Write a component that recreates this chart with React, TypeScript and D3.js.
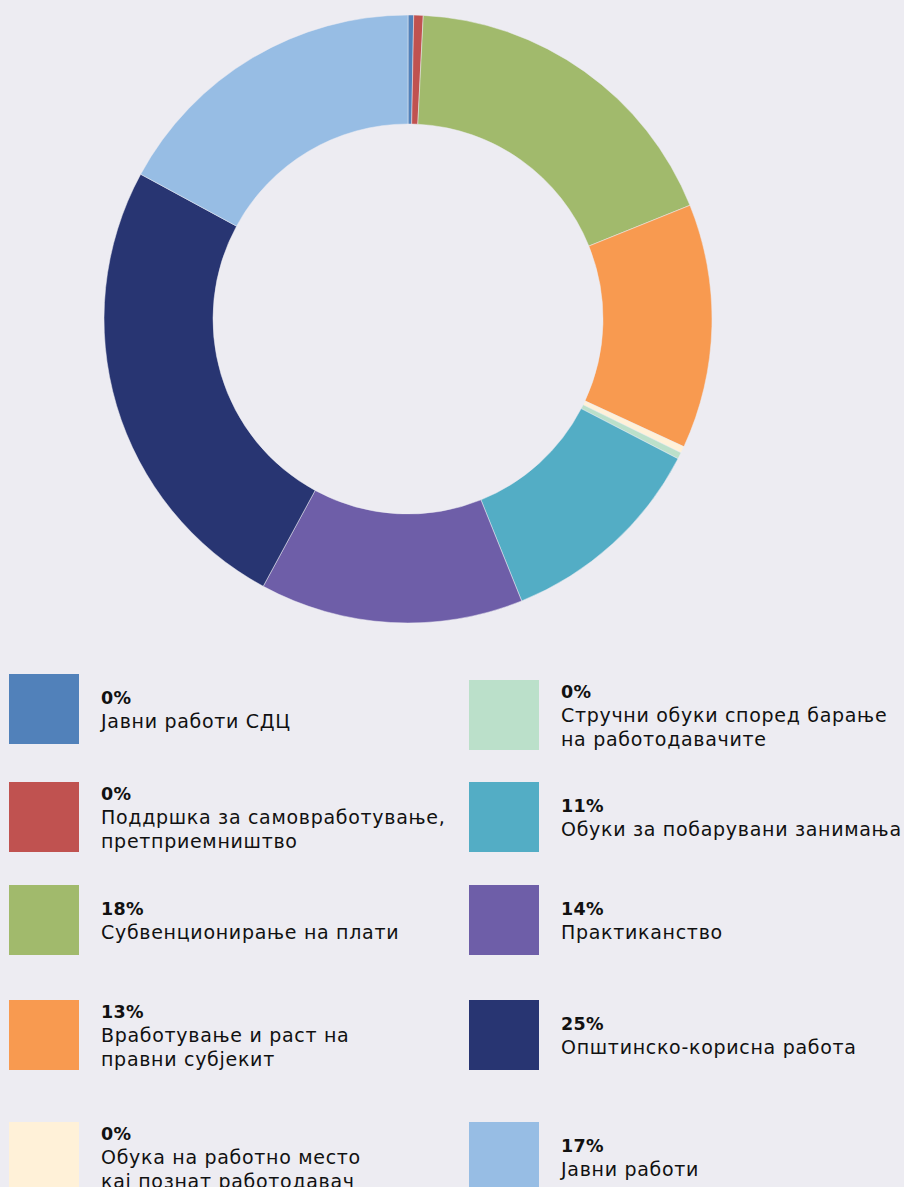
import React from "react";
import * as d3 from "d3";

const categories = [
  "Јавни работи СДЦ",
  "Поддршка за самовработување,\nпретприемништво",
  "Субвенционирање на плати",
  "Вработување и раст на\nправни субјекит",
  "Обука на работно место\nкај познат работодавач",
  "Стручни обуки според барање\nна работодавачите",
  "Обуки за побарувани занимања",
  "Практиканство",
  "Општинско-корисна работа",
  "Јавни работи",
];
const values = [0.3, 0.5, 18.1, 13.0, 0.35, 0.35, 11.3, 14.0, 25.0, 17.1];
const percentLabels = ["0%", "0%", "18%", "13%", "0%", "0%", "11%", "14%", "25%", "17%"];
const colors = [
  "#5181BA",
  "#C05250",
  "#A1BA6C",
  "#F89A50",
  "#FFF1D8",
  "#BBE0CA",
  "#53ADC5",
  "#6E5EA8",
  "#283572",
  "#97BDE4",
];

// legend layout: which items go in which column, and row tops
const leftCol = [0, 1, 2, 3, 4];
const rightCol = [5, 6, 7, 8, 9];
const leftTops = [674, 782, 885, 1000, 1122];
const rightTops = [680, 782, 885, 1000, 1122];

const W = 904;
const H = 1187;
const BG = "#EDECF2";
const FONT = "'DejaVu Sans', sans-serif";

export default function App() {
  const cx = 408;
  const cy = 319;
  const pie = d3.pie<number>().sort(null).value((d) => d)(values);
  const arc = d3.arc<d3.PieArcDatum<number>>().innerRadius(195).outerRadius(304);

  const legendItem = (idx: number, x: number, top: number) => {
    const lines = categories[idx].split("\n");
    const all = [percentLabels[idx], ...lines];
    const lh = 24;
    const center = top + 35;
    const firstCenter = center - ((all.length - 1) * lh) / 2;
    return (
      <g key={idx}>
        <rect x={x} y={top} width={70} height={70} fill={colors[idx]} />
        {all.map((t, i) => (
          <text
            key={i}
            x={x + 92}
            y={firstCenter + i * lh + 7}
            fontFamily={FONT}
            fontSize={i === 0 ? 17.5 : 19}
            fontWeight={i === 0 ? 700 : 400}
            letterSpacing={i === 0 ? 0.3 : 0.7}
            fill="#111"
          >
            {t}
          </text>
        ))}
      </g>
    );
  };

  return (
    <svg
      width={W}
      height={H}
      style={{ position: "absolute", left: 0, top: 0, background: BG }}
    >
      <rect width={W} height={H} fill={BG} />
      <g transform={`translate(${cx},${cy})`}>
        {pie.map((p, i) => (
          <path key={i} d={arc(p) || ""} fill={colors[i]} stroke={BG} strokeWidth={0.5} />
        ))}
      </g>
      {leftCol.map((idx, r) => legendItem(idx, 9, leftTops[r]))}
      {rightCol.map((idx, r) => legendItem(idx, 469, rightTops[r]))}
    </svg>
  );
}
